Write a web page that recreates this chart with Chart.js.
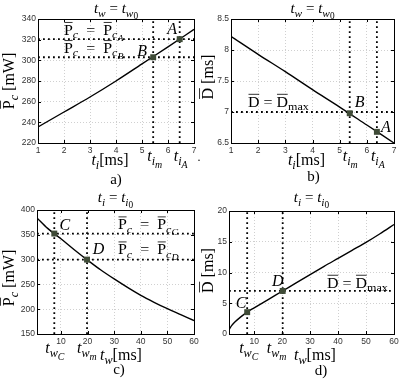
<!DOCTYPE html>
<html><head><meta charset="utf-8">
<script src="https://cdn.jsdelivr.net/npm/chart.js@4"></script>
<style>
html,body{margin:0;padding:0;background:#fff;}
#wrap{position:relative;width:416px;height:384px;overflow:hidden;}
canvas{position:absolute;left:0;top:0;}
</style></head><body>
<div id="wrap">
<canvas id="pa" width="416" height="384"></canvas>
<canvas id="pb" width="416" height="384"></canvas>
<canvas id="pc" width="416" height="384"></canvas>
<canvas id="pd" width="416" height="384"></canvas>
</div>
<script>
// ---------- data ----------
// panel a) : Pc vs ti  (tw = tw0)
const aTi = [1, 2, 3, 4, 5, 6, 7];
const aPc = [235.5, 250, 264.5, 280, 296.5, 313, 330];
const aMarkX = [6.45, 5.43];          // A, B
const aMarkY = [320.5, 303];
const aXTicks = [1, 2, 3, 4, 5, 6, 7];
const aYTicks = [220, 240, 260, 280, 300, 320, 340];

// panel b) : D vs ti  (tw = tw0)
const bTi = [1, 2, 3, 4, 5, 6, 7];
const bD = [8.22, 7.93, 7.65, 7.36, 7.08, 6.79, 6.5];
const bMarkX = [6.37, 5.37];          // A, B
const bMarkY = [6.68, 6.98];
const bDmax = 7;
const bXTicks = [1, 2, 3, 4, 5, 6, 7];
const bYTicks = [6.5, 7, 7.5, 8, 8.5];

// panel c) : Pc vs tw  (ti = ti0)
const cTw = [1, 5, 10, 15, 20, 25, 30, 35, 40, 45, 50, 55, 60];
const cPc = [384, 363, 342, 320, 299, 279, 261, 244, 228, 214, 201, 189, 177];
const cMarkX = [7.5, 19.8];           // C, D
const cMarkY = [352.5, 300];
const cXTicks = [10, 20, 30, 40, 50, 60];
const cYTicks = [150, 200, 250, 300, 350, 400];

// panel d) : D vs tw  (ti = ti0)
const dTw = [1, 2, 3, 5, 7.5, 10, 15, 20, 25, 30, 35, 40, 45, 50, 55, 60];
const dD = [0.7, 1.4, 1.9, 2.7, 3.55, 4.25, 5.6, 6.95, 8.3, 9.65, 11.0, 12.3, 13.6, 14.9, 16.3, 17.8];
const dMarkX = [7.5, 20.2];           // C, D
const dMarkY = [3.55, 7.0];
const dDmax = 7;
const dXTicks = [10, 20, 30, 40, 50, 60];
const dYTicks = [0, 5, 10, 15, 20];

// ---------- helpers ----------
const SERIF = '"Liberation Serif", "DejaVu Serif", serif';
const SANS = '"Liberation Sans", Arial, sans-serif';
const MARK = '#3f4b37';

function fontStr(style, size) { return (style === 'i' ? 'italic ' : '') + size.toFixed(1) + 'px ' + SERIF; }
function drawRich(ctx, parts, x, cy, align, size, sxf) {
  const SX = sxf || 1;
  const sc = [1, 0.76, 0.62], dy = [0, 0.24, 0.40];
  ctx.save();
  ctx.textAlign = 'left'; ctx.textBaseline = 'alphabetic';
  ctx.fillStyle = '#000'; ctx.strokeStyle = '#000';
  let w = 0;
  for (const p of parts) { ctx.font = fontStr(p[2], size * sc[p[1]]); w += ctx.measureText(p[0]).width * SX; }
  let sx = align === 'center' ? x - w / 2 : align === 'right' ? x - w : x;
  const base = cy + 0.33 * size;
  for (const p of parts) {
    const s = size * sc[p[1]];
    ctx.font = fontStr(p[2], s);
    const tw = ctx.measureText(p[0]).width * SX;
    const by = base + dy[p[1]] * size;
    ctx.save(); ctx.translate(sx, by); ctx.scale(SX, 1); ctx.fillText(p[0], 0, 0); ctx.restore();
    if (p[2] === 'o') {
      ctx.beginPath(); ctx.lineWidth = 0.8;
      ctx.moveTo(sx + 0.5, by - s * 0.86); ctx.lineTo(sx + tw - 0.3, by - s * 0.86); ctx.stroke();
    }
    sx += tw;
  }
  ctx.restore();
}
function drawRot(ctx, parts, x, cy, size) {
  ctx.save(); ctx.translate(x, cy); ctx.rotate(-Math.PI / 2);
  drawRich(ctx, parts, 0, 0, 'center', size); ctx.restore();
}
const EQ = '\u2002=\u2002';
const M = {
  twEq: [['t',0,'i'],['w',1,'i'],[' = ',0,'r'],['t',0,'i'],['w',1,'i'],['0',2,'r']],
  tiEq: [['t',0,'i'],['i',1,'i'],[' = ',0,'r'],['t',0,'i'],['i',1,'i'],['0',2,'r']],
  pcLab: [['P',0,'o'],['c',1,'i'],[' [mW]',0,'r']],
  dLab: [['D',0,'o'],[' [ms]',0,'r']],
  tiLab: [['t',0,'i'],['i',1,'i'],['[ms]',0,'r']],
  twLab: [['t',0,'i'],['w',1,'i'],['[ms]',0,'r']],
  tim: [['t',0,'i'],['i',1,'i'],['m',2,'i']],
  tiA: [['t',0,'i'],['i',1,'i'],['A',2,'i']],
  twC: [['t',0,'i'],['w',1,'i'],['C',2,'i']],
  twm: [['t',0,'i'],['w',1,'i'],['m',2,'i']],
  pcA: [['P',0,'o'],['c',1,'i'],[EQ,0,'r'],['P',0,'o'],['c',1,'i'],['A',2,'i']],
  pcB: [['P',0,'o'],['c',1,'i'],[EQ,0,'r'],['P',0,'o'],['c',1,'i'],['B',2,'i']],
  pcC: [['P',0,'o'],['c',1,'i'],[EQ,0,'r'],['P',0,'o'],['c',1,'i'],['C',2,'i']],
  pcD: [['P',0,'o'],['c',1,'i'],[EQ,0,'r'],['P',0,'o'],['c',1,'i'],['D',2,'i']],
  dmax: [['D',0,'o'],[' = ',0,'r'],['D',0,'o'],['max',1,'r']]
};
function letter(ctx, s, x, cy) { drawRich(ctx, [[s, 0, 'i']], x, cy, 'center', 16); }
function lineLab(ctx, parts, x, cy) { drawRich(ctx, parts, x, cy, 'left', 14.5, 1.1); }

function zip(xs, ys) { return xs.map((v, i) => ({ x: v, y: ys[i] })); }
function curve(xs, ys) {
  return { data: zip(xs, ys), showLine: true, borderColor: '#000', borderWidth: 1.4,
           pointRadius: 0, cubicInterpolationMode: 'monotone', order: 1 };
}
function dotted(pts) {
  return { data: pts, showLine: true, borderColor: '#000', borderWidth: 1.8,
           borderDash: [1.8, 3.2], pointRadius: 0, order: 2 };
}
function markers(xs, ys) {
  return { data: zip(xs, ys), showLine: false, pointStyle: 'rect', pointRadius: 4.2,
           backgroundColor: MARK, borderColor: MARK, borderWidth: 0, order: 0 };
}

function makePanel(id, o) {
  const overlay = {
    id: 'ov' + id,
    afterDraw(chart) {
      const ctx = chart.ctx, ca = chart.chartArea;
      const xs = chart.scales.x, ys = chart.scales.y;
      ctx.save();
      ctx.strokeStyle = '#000'; ctx.lineWidth = 1;
      ctx.beginPath();
      for (const v of o.xticks) {
        const px = Math.round(xs.getPixelForValue(v)) + 0.5;
        ctx.moveTo(px, ca.bottom); ctx.lineTo(px, ca.bottom - 3);
        ctx.moveTo(px, ca.top); ctx.lineTo(px, ca.top + 3);
      }
      for (const v of o.yticks) {
        const py = Math.round(ys.getPixelForValue(v)) + 0.5;
        ctx.moveTo(ca.left, py); ctx.lineTo(ca.left + 3, py);
        ctx.moveTo(ca.right, py); ctx.lineTo(ca.right - 3, py);
      }
      ctx.stroke();
      ctx.strokeRect(Math.round(ca.left) + 0.5, Math.round(ca.top) + 0.5,
                     Math.round(ca.right - ca.left), Math.round(ca.bottom - ca.top));
      ctx.restore();
      o.draw(ctx, ca, v => xs.getPixelForValue(v), v => ys.getPixelForValue(v));
    }
  };
  const tickFmt = v => String(v);
  return new Chart(document.getElementById(id), {
    type: 'scatter',
    data: { datasets: o.datasets },
    options: {
      responsive: false, animation: false, devicePixelRatio: 1,
      layout: { padding: o.pad },
      plugins: { legend: { display: false }, tooltip: { enabled: false }, title: { display: false } },
      scales: {
        x: {
          type: 'linear', min: o.xmin, max: o.xmax,
          afterFit: s => { s.height = 14; },
          afterBuildTicks: s => { s.ticks = o.xticks.map(v => ({ value: v })); },
          grid: { color: '#c4c4c4', lineWidth: 0.8, drawTicks: false },
          border: { display: false, dash: [1, 2] },
          ticks: { font: { family: SANS, size: 8.5 }, color: '#333', padding: 3, maxRotation: 0, autoSkip: false, callback: tickFmt }
        },
        y: {
          type: 'linear', min: o.ymin, max: o.ymax,
          afterFit: s => { s.width = 30; },
          afterBuildTicks: s => { s.ticks = o.yticks.map(v => ({ value: v })); },
          grid: { color: '#c4c4c4', lineWidth: 0.8, drawTicks: false },
          border: { display: false, dash: [1, 2] },
          ticks: { font: { family: SANS, size: 8.5 }, color: '#333', padding: 2, autoSkip: false, callback: tickFmt }
        }
      }
    },
    plugins: [overlay]
  });
}

// ---------- panel a ----------
makePanel('pa', {
  pad: { left: 8, right: 222, top: 19, bottom: 227 },
  xmin: aXTicks[0], xmax: aXTicks[aXTicks.length - 1],
  ymin: aYTicks[0], ymax: aYTicks[aYTicks.length - 1],
  xticks: aXTicks, yticks: aYTicks,
  datasets: [
    markers(aMarkX, aMarkY),
    curve(aTi, aPc),
    dotted([{ x: aMarkX[0], y: aYTicks[0] }, { x: aMarkX[0], y: aYTicks[aYTicks.length - 1] }]),
    dotted([{ x: aMarkX[1], y: aYTicks[0] }, { x: aMarkX[1], y: aYTicks[aYTicks.length - 1] }]),
    dotted([{ x: aXTicks[0], y: aMarkY[0] }, { x: aXTicks[aXTicks.length - 1], y: aMarkY[0] }]),
    dotted([{ x: aXTicks[0], y: aMarkY[1] }, { x: aXTicks[aXTicks.length - 1], y: aMarkY[1] }])
  ],
  draw(ctx, ca, X, Y) {
    const mx = (ca.left + ca.right) / 2, my = (ca.top + ca.bottom) / 2;
    drawRich(ctx, M.twEq, mx, ca.top - 11, 'center', 15);
    drawRot(ctx, M.pcLab, ca.left - 29, my, 16);
    drawRich(ctx, M.tiLab, mx - 6, ca.bottom + 17, 'center', 16);
    drawRich(ctx, [['a)', 0, 'r']], mx, ca.bottom + 36, 'center', 15);
    drawRich(ctx, M.tim, X(aMarkX[1]) - 6, ca.bottom + 13, 'left', 16);
    drawRich(ctx, M.tiA, X(aMarkX[0]) - 6, ca.bottom + 13, 'left', 16);
    lineLab(ctx, M.pcA, ca.left + 26, Y(aMarkY[0]) - 9);
    lineLab(ctx, M.pcB, ca.left + 26, Y(aMarkY[1]) - 9);
    letter(ctx, 'A', X(aMarkX[0]) - 7.5, Y(aMarkY[0]) - 10);
    letter(ctx, 'B', X(aMarkX[1]) - 11, Y(aMarkY[1]) - 7);
    drawRich(ctx, [['.', 0, 'r']], ca.right + 5, ca.bottom + 14, 'center', 12);
  }
});

// ---------- panel b ----------
makePanel('pb', {
  pad: { left: 201, right: 22, top: 19, bottom: 227 },
  xmin: bXTicks[0], xmax: bXTicks[bXTicks.length - 1],
  ymin: bYTicks[0], ymax: bYTicks[bYTicks.length - 1],
  xticks: bXTicks, yticks: bYTicks,
  datasets: [
    markers(bMarkX, bMarkY),
    curve(bTi, bD),
    dotted([{ x: bMarkX[0], y: bYTicks[0] }, { x: bMarkX[0], y: bYTicks[bYTicks.length - 1] }]),
    dotted([{ x: bMarkX[1], y: bYTicks[0] }, { x: bMarkX[1], y: bYTicks[bYTicks.length - 1] }]),
    dotted([{ x: bXTicks[0], y: bDmax }, { x: bXTicks[bXTicks.length - 1], y: bDmax }])
  ],
  draw(ctx, ca, X, Y) {
    const mx = (ca.left + ca.right) / 2, my = (ca.top + ca.bottom) / 2;
    drawRich(ctx, M.twEq, mx, ca.top - 11, 'center', 15);
    drawRot(ctx, M.dLab, ca.left - 23, my - 4, 16);
    drawRich(ctx, M.tiLab, mx - 6, ca.bottom + 17, 'center', 16);
    drawRich(ctx, [['b)', 0, 'r']], mx + 1, ca.bottom + 33, 'center', 15);
    drawRich(ctx, M.tim, X(bMarkX[1]) - 7, ca.bottom + 13, 'left', 16);
    drawRich(ctx, M.tiA, X(bMarkX[0]) - 6, ca.bottom + 13, 'left', 16);
    lineLab(ctx, M.dmax, ca.left + 17, Y(bDmax) - 10);
    letter(ctx, 'A', X(bMarkX[0]) + 9, Y(bMarkY[0]) - 5);
    letter(ctx, 'B', X(bMarkX[1]) + 10, Y(bMarkY[1]) - 12);
  }
});

// ---------- panel c ----------
makePanel('pc', {
  pad: { left: 7, right: 222, top: 210, bottom: 36 },
  xmin: cTw[0], xmax: cTw[cTw.length - 1],
  ymin: cYTicks[0], ymax: cYTicks[cYTicks.length - 1],
  xticks: cXTicks, yticks: cYTicks,
  datasets: [
    markers(cMarkX, cMarkY),
    curve(cTw, cPc),
    dotted([{ x: cMarkX[0], y: cYTicks[0] }, { x: cMarkX[0], y: cYTicks[cYTicks.length - 1] }]),
    dotted([{ x: cMarkX[1], y: cYTicks[0] }, { x: cMarkX[1], y: cYTicks[cYTicks.length - 1] }]),
    dotted([{ x: cTw[0], y: cMarkY[0] }, { x: cTw[cTw.length - 1], y: cMarkY[0] }]),
    dotted([{ x: cTw[0], y: cMarkY[1] }, { x: cTw[cTw.length - 1], y: cMarkY[1] }])
  ],
  draw(ctx, ca, X, Y) {
    const mx = (ca.left + ca.right) / 2, my = (ca.top + ca.bottom) / 2;
    drawRich(ctx, M.tiEq, mx, ca.top - 13, 'center', 15);
    drawRot(ctx, M.pcLab, ca.left - 28, my + 6, 16);
    drawRich(ctx, M.twLab, ca.left + 84, ca.bottom + 21, 'center', 16);
    drawRich(ctx, [['c)', 0, 'r']], ca.left + 82, ca.bottom + 35, 'center', 15);
    drawRich(ctx, M.twC, X(cMarkX[0]) - 9, ca.bottom + 14, 'left', 16);
    drawRich(ctx, M.twm, X(cMarkX[1]) - 10, ca.bottom + 14, 'left', 16);
    lineLab(ctx, M.pcC, ca.left + 81, Y(cMarkY[0]) - 9);
    lineLab(ctx, M.pcD, ca.left + 81, Y(cMarkY[1]) - 10);
    letter(ctx, 'C', X(cMarkX[0]) + 10.5, Y(cMarkY[0]) - 9);
    letter(ctx, 'D', X(cMarkX[1]) + 11.5, Y(cMarkY[1]) - 10.5);
  }
});

// ---------- panel d ----------
makePanel('pd', {
  pad: { left: 199, right: 22, top: 211, bottom: 36 },
  xmin: dTw[0], xmax: dTw[dTw.length - 1],
  ymin: dYTicks[0], ymax: dYTicks[dYTicks.length - 1],
  xticks: dXTicks, yticks: dYTicks,
  datasets: [
    markers(dMarkX, dMarkY),
    curve(dTw, dD),
    dotted([{ x: dMarkX[0], y: dYTicks[0] }, { x: dMarkX[0], y: dYTicks[dYTicks.length - 1] }]),
    dotted([{ x: dMarkX[1], y: dYTicks[0] }, { x: dMarkX[1], y: dYTicks[dYTicks.length - 1] }]),
    dotted([{ x: dTw[0], y: dDmax }, { x: dTw[dTw.length - 1], y: dDmax }])
  ],
  draw(ctx, ca, X, Y) {
    const mx = (ca.left + ca.right) / 2, my = (ca.top + ca.bottom) / 2;
    drawRich(ctx, M.tiEq, mx, ca.top - 14, 'center', 15);
    drawRot(ctx, M.dLab, ca.left - 21, my - 2, 16);
    drawRich(ctx, M.twLab, ca.left + 86, ca.bottom + 21, 'center', 16);
    drawRich(ctx, [['d)', 0, 'r']], ca.left + 92, ca.bottom + 36, 'center', 15);
    drawRich(ctx, M.twC, X(dMarkX[0]) - 8, ca.bottom + 14, 'left', 16);
    drawRich(ctx, M.twm, X(dMarkX[1]) - 16, ca.bottom + 14, 'left', 16);
    lineLab(ctx, M.dmax, ca.left + 98, Y(dDmax) - 8);
    letter(ctx, 'C', X(dMarkX[0]) - 6, Y(dMarkY[0]) - 9);
    letter(ctx, 'D', X(dMarkX[1]) - 5, Y(dMarkY[1]) - 10);
  }
});
</script>
</body></html>
